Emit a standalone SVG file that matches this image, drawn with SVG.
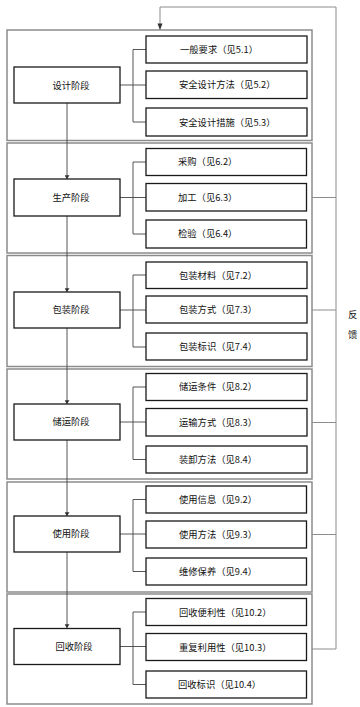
<svg xmlns="http://www.w3.org/2000/svg" width="360" height="707" viewBox="0 0 360 707">
<style>
.frame{fill:none;stroke:#8c8c8c;stroke-width:1.5}
.box{fill:#fff;stroke:#1a1a1a;stroke-width:1.3}
.ln{fill:none;stroke:#444;stroke-width:0.9}
.fb{fill:none;stroke:#8c8c8c;stroke-width:1}
text{font-family:"Noto Sans CJK SC","Noto Sans CJK JP",sans-serif;font-size:9.3px;fill:#111}
.st{text-anchor:middle}
</style>
<defs>
<marker id="ah" viewBox="0 0 6 8" refX="6" refY="4" markerWidth="4" markerHeight="5" orient="auto" markerUnits="userSpaceOnUse"><path d="M0,0 L6,4 L0,8 z" fill="#333"/></marker>
</defs>
<rect width="360" height="707" fill="#fff"/>
<g id="frames">
<rect class="frame" x="7" y="30" width="305" height="110.5"/>
<rect class="frame" x="7" y="143" width="305" height="110"/>
<rect class="frame" x="7" y="255.5" width="305" height="111"/>
<rect class="frame" x="7" y="369" width="305" height="110"/>
<rect class="frame" x="7" y="482" width="305" height="110"/>
<rect class="frame" x="7" y="594" width="305" height="110"/>
</g>
<g id="connectors">
<path class="ln" d="M67,103 V179" marker-end="url(#ah)"/>
<path class="ln" d="M67,216 V292" marker-end="url(#ah)"/>
<path class="ln" d="M67,328 V404" marker-end="url(#ah)"/>
<path class="ln" d="M67,440 V516" marker-end="url(#ah)"/>
<path class="ln" d="M67,552 V628" marker-end="url(#ah)"/>
<path class="ln" d="M120,85 H146 M133,49.5 V122 M133,49.5 H146 M133,122 H146"/>
<path class="ln" d="M120,197.5 H146 M133,162 V234 M133,162 H146 M133,234 H146"/>
<path class="ln" d="M120,310 H146 M133,275 V347 M133,275 H146 M133,347 H146"/>
<path class="ln" d="M120,422 H146 M133,387 V459.5 M133,387 H146 M133,459.5 H146"/>
<path class="ln" d="M120,534 H146 M133,499.5 V571.5 M133,499.5 H146 M133,571.5 H146"/>
<path class="ln" d="M120,646.5 H146 M133,612 V684.5 M133,612 H146 M133,684.5 H146"/>
<path class="fb" d="M312,197.5 H336 M312,310 H336 M312,422.5 H336 M312,534.5 H336 M312,649 H336 V7 H160 V29"/>
<path d="M157.5,23.5 L160,30 L162.5,23.5 z" fill="#333"/>
</g>
<g id="design">
<rect class="box" x="14" y="67" width="106" height="36"/>
<text class="st" x="71" y="88.5">设计阶段</text>
</g>
<g id="d1"><rect class="box" x="146" y="36" width="161" height="27"/><text x="180" y="53">一般要求（见5.1）</text></g>
<g id="d2"><rect class="box" x="146" y="71" width="161" height="27.5"/><text x="179" y="88">安全设计方法（见5.2）</text></g>
<g id="d3"><rect class="box" x="146" y="108" width="161" height="28"/><text x="179" y="125.5">安全设计措施（见5.3）</text></g>
<g id="production">
<rect class="box" x="14" y="179" width="106" height="37"/>
<text class="st" x="71" y="200.5">生产阶段</text>
</g>
<g id="p1"><rect class="box" x="146" y="148.5" width="160.5" height="27"/><text x="178" y="165">采购（见6.2）</text></g>
<g id="p2"><rect class="box" x="146" y="183.5" width="160.5" height="27.5"/><text x="178" y="200.5">加工（见6.3）</text></g>
<g id="p3"><rect class="box" x="146" y="220" width="160.5" height="28"/><text x="178" y="237">检验（见6.4）</text></g>
<g id="packaging">
<rect class="box" x="14" y="292" width="106" height="36"/>
<text class="st" x="71" y="313">包装阶段</text>
</g>
<g id="k1"><rect class="box" x="146" y="262" width="161" height="26.5"/><text x="179" y="278.5">包装材料（见7.2）</text></g>
<g id="k2"><rect class="box" x="146" y="296" width="161" height="27"/><text x="179" y="313">包装方式（见7.3）</text></g>
<g id="k3"><rect class="box" x="146" y="333" width="161" height="27"/><text x="179" y="350">包装标识（见7.4）</text></g>
<g id="storage">
<rect class="box" x="14" y="404" width="106" height="36"/>
<text class="st" x="71" y="425">储运阶段</text>
</g>
<g id="s1"><rect class="box" x="146" y="373.5" width="161" height="27"/><text x="179" y="390">储运条件（见8.2）</text></g>
<g id="s2"><rect class="box" x="146" y="408.5" width="161" height="27.5"/><text x="179" y="425.5">运输方式（见8.3）</text></g>
<g id="s3"><rect class="box" x="146" y="446" width="161" height="27"/><text x="179" y="463">装卸方法（见8.4）</text></g>
<g id="use">
<rect class="box" x="14" y="516" width="106" height="36"/>
<text class="st" x="71" y="537">使用阶段</text>
</g>
<g id="u1"><rect class="box" x="146" y="486" width="160.5" height="27"/><text x="179" y="503">使用信息（见9.2）</text></g>
<g id="u2"><rect class="box" x="146" y="521" width="160.5" height="27"/><text x="179" y="538">使用方法（见9.3）</text></g>
<g id="u3"><rect class="box" x="146" y="558" width="160.5" height="27"/><text x="179" y="575">维修保养（见9.4）</text></g>
<g id="recycle">
<rect class="box" x="14" y="628.5" width="106" height="36"/>
<text class="st" x="74" y="649.5">回收阶段</text>
</g>
<g id="r1"><rect class="box" x="146" y="598.5" width="160.5" height="27"/><text x="179" y="615.5">回收便利性（见10.2）</text></g>
<g id="r2"><rect class="box" x="146" y="633.5" width="160.5" height="27"/><text x="179" y="650.5">重复利用性（见10.3）</text></g>
<g id="r3"><rect class="box" x="146" y="671" width="160.5" height="27"/><text x="178" y="688">回收标识（见10.4）</text></g>
<g id="feedback-label">
<text x="348" y="318">反</text>
<text x="348" y="338">馈</text>
</g>
</svg>
